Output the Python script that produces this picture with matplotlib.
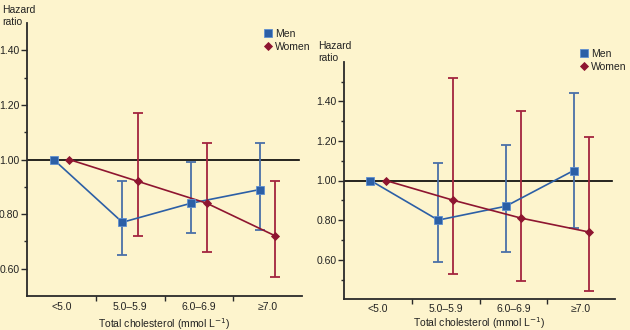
import numpy as np
import matplotlib
matplotlib.use("Agg")
import matplotlib.pyplot as plt
from matplotlib.ticker import FixedLocator, NullFormatter

plt.rcParams["font.family"] = ["Liberation Sans", "DejaVu Sans"]

categories = ["<5.0", "5.0\u20135.9", "6.0\u20136.9", "\u22657.0"]
y_major = [0.60, 0.80, 1.00, 1.20, 1.40]

# panel 1
men_hr_a = [1.00, 0.77, 0.84, 0.89]
men_lo_a = [1.00, 0.65, 0.73, 0.74]
men_hi_a = [1.00, 0.92, 0.99, 1.06]
women_hr_a = [1.00, 0.92, 0.84, 0.72]
women_lo_a = [1.00, 0.72, 0.66, 0.57]
women_hi_a = [1.00, 1.17, 1.06, 0.92]

# panel 2
men_hr_b = [1.00, 0.80, 0.87, 1.05]
men_lo_b = [1.00, 0.59, 0.64, 0.76]
men_hi_b = [1.00, 1.09, 1.18, 1.44]
women_hr_b = [1.00, 0.90, 0.81, 0.74]
women_lo_b = [1.00, 0.53, 0.49, 0.44]
women_hi_b = [1.00, 1.52, 1.35, 1.22]

BG = "#FDF4CD"
MEN = "#2C5FA6"
MEN_BAR = "#4A70A8"
WOMEN = "#8E1530"
WOMEN_BAR = "#A3243F"
AXC = "#2A2A2A"
TXT = "#222222"

fig = plt.figure(figsize=(6.3, 3.3), dpi=100, facecolor=BG)

def panel(rect, ylim, y_minor, men, women, leg_xy, lab_xy, xpad, xlpad):
    ax = fig.add_axes(rect)
    ax.set_facecolor(BG)
    x = np.arange(len(categories)) + 0.5
    off = 0.113
    ax.axhline(1.0, color="black", lw=1.2, xmin=0, xmax=0.99, zorder=1)
    for (hr, lo, hi), dx, col, bcol, mk, ms, lab in (
            (men, -off, MEN, MEN_BAR, "s", 6.0, "Men"),
            (women, off, WOMEN, WOMEN_BAR, "D", 4.2, "Women")):
        hr, lo, hi = map(np.asarray, (hr, lo, hi))
        xs = x + dx
        ax.errorbar(xs[1:], hr[1:], yerr=[hr[1:] - lo[1:], hi[1:] - hr[1:]],
                    fmt="none", ecolor=bcol, elinewidth=1.3, capsize=3.8,
                    capthick=1.3, zorder=2)
        ax.plot(xs, hr, "-", color=col, lw=1.2, zorder=3)
        ax.plot(xs, hr, mk, color=col, ms=ms, mec="#5F8FD0" if mk == "s" else col,
                mew=0.6, zorder=4, label=lab, linestyle="none")
    ax.set_xlim(0, 4)
    ax.set_ylim(*ylim)
    for s in ("top", "right"):
        ax.spines[s].set_visible(False)
    for s in ("left", "bottom"):
        ax.spines[s].set_color(AXC)
        ax.spines[s].set_linewidth(1.3)
    ax.yaxis.set_major_locator(FixedLocator(y_major))
    ax.yaxis.set_minor_locator(FixedLocator(y_minor))
    ax.yaxis.set_major_formatter(lambda v, p: f"{v:.2f}")
    ax.tick_params(axis="y", which="major", length=4.5, width=1, color=AXC,
                   labelsize=7.5, pad=1, labelcolor=TXT)
    ax.tick_params(axis="y", which="minor", length=2.5, width=1, color=AXC)
    ax.xaxis.set_major_locator(FixedLocator([1, 2, 3]))
    ax.xaxis.set_major_formatter(NullFormatter())
    ax.xaxis.set_minor_locator(FixedLocator(list(x)))
    ax.set_xticklabels(categories, minor=True)
    ax.tick_params(axis="x", which="major", length=3.5, width=1, color=AXC)
    ax.tick_params(axis="x", which="minor", length=0, labelsize=7.5, pad=xpad,
                   labelcolor=TXT)
    ax.set_xlabel("Total cholesterol (mmol L$^{-1}$)", fontsize=7.5,
                  labelpad=xlpad, color=TXT)
    fig.text(lab_xy[0], lab_xy[1], "Hazard\nratio", fontsize=7.5, va="top",
             ha="left", linespacing=1.3, color=TXT)
    ax.legend(loc="upper left", bbox_to_anchor=leg_xy,
              bbox_transform=fig.transFigure, frameon=False, fontsize=7.5,
              handlelength=0.6, handletextpad=0.35, labelspacing=0.3,
              borderpad=0, borderaxespad=0, labelcolor=TXT)
    return ax

panel([27 / 630, 34 / 330, 275 / 630, 273 / 330], (0.5, 1.5),
      [0.70, 0.90, 1.10, 1.30],
      (men_hr_a, men_lo_a, men_hi_a), (women_hr_a, women_lo_a, women_hi_a),
      (265 / 630, 1 - 29 / 330), (2 / 630, 1 - 5 / 330), 4.5, 2.5)
panel([344.3 / 630, 30.7 / 330, 270.7 / 630, 237.6 / 330], (0.4, 1.6),
      [0.50, 0.70, 0.90, 1.10, 1.30, 1.50],
      (men_hr_b, men_lo_b, men_hi_b), (women_hr_b, women_lo_b, women_hi_b),
      (581 / 630, 1 - 49 / 330), (318 / 630, 1 - 41 / 330), 3.5, 1.0)

fig.savefig("out.png", dpi=100, facecolor=BG)
